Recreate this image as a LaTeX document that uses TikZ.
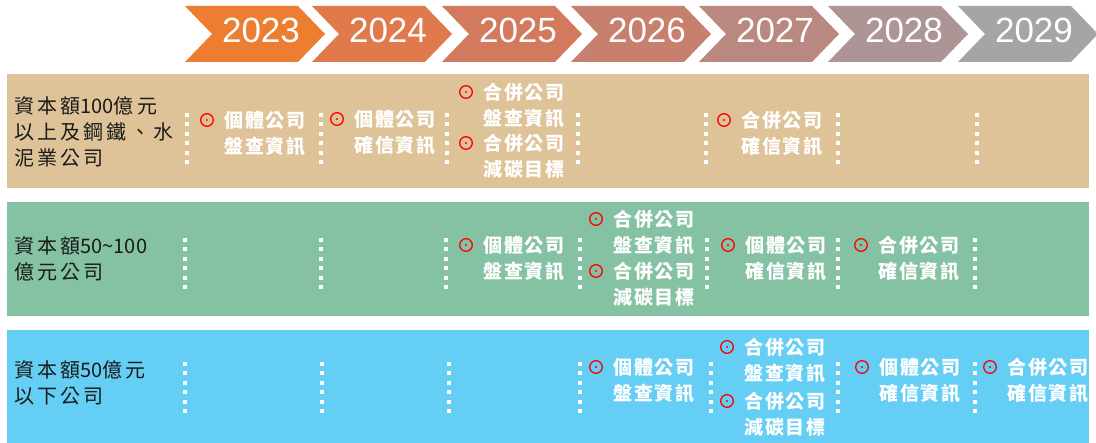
\documentclass[tikz,border=0pt]{standalone}
\usepackage{fontspec}
\setmainfont{Liberation Sans}
\newfontfamily\cjk[LetterSpace=10]{Noto Sans CJK TC}
\newfontfamily\cjklbl[LetterSpace=16]{Noto Sans CJK TC}
\newfontfamily\cjkdig{Noto Sans CJK TC}
\newcommand\dg[1]{{\cjkdig #1}}
\definecolor{c23}{HTML}{ED7D31}
\definecolor{c24}{HTML}{E07A4C}
\definecolor{c25}{HTML}{D37A5E}
\definecolor{c26}{HTML}{C8806E}
\definecolor{c27}{HTML}{B98880}
\definecolor{c28}{HTML}{AE9595}
\definecolor{c29}{HTML}{A5A5A5}
\definecolor{rowA}{HTML}{DFC398}
\definecolor{rowB}{HTML}{85C2A4}
\definecolor{rowC}{HTML}{65CEF4}
\definecolor{lbltxt}{HTML}{1A1A1A}
\newcommand\tlentry[5]{%
  \draw[mk] (#2,#3) circle[radius=6.3];
  \fill[red] (#2,#3) circle[radius=1.1];
  \node[wtxt] (#1a) at (#2+17,#3) {#4};
  \node[wtxt] (#1b) at (#2+17,#3+26.5) {#5};
}
\newcommand\chevron[3]{% x0, colour, year
  \fill[#2] (#1,6) -- (#1+113,6) -- (#1+140,34) -- (#1+113,62) -- (#1,62) -- (#1+27,34) -- cycle;
  \node[yearlbl] (y#3) at (#1+76,43) {#3};
}
\newcommand\dotcol[2]{% x, ystart
  \foreach \k in {0,...,5}
    \fill[white] (#1-2,#2+\k*9.5-2) rectangle ++(4,4);
}
\begin{document}
\begin{tikzpicture}[x=1pt,y=-1pt,
  yearlbl/.style={anchor=base,inner sep=0,text=white,font=\fontsize{35}{35}\selectfont},
  wtxt/.style={anchor=west,inner sep=0,text=white,font=\cjk\bfseries\fontsize{19}{19}\selectfont},
  lbl/.style={anchor=west,inner sep=0,align=left,text=lbltxt,font=\cjklbl\fontsize{20}{26}\selectfont},
  mk/.style={draw=red,line width=1.3pt}]
\useasboundingbox (0,0) rectangle (1096,443);
\fill[white] (0,0) rectangle (1096,443);
% chevrons
\chevron{185}{c23}{2023}
\chevron{312}{c24}{2024}
\chevron{442}{c25}{2025}
\chevron{571}{c26}{2026}
\chevron{699}{c27}{2027}
\chevron{828}{c28}{2028}
\chevron{958}{c29}{2029}
% rows
\fill[rowA] (7,74) rectangle (1089,188);
\fill[rowB] (7,202) rectangle (1089,316);
\fill[rowC] (7,330) rectangle (1089,443);
% row labels
\node[lbl] (labA) at (14,132) {資本額\dg{100}億元\\以上及鋼鐵、水\\泥業公司};
\node[lbl] (labB) at (14,259) {資本額\dg{50\textasciitilde100}\\億元公司};
\node[lbl] (labC) at (14,382.5) {資本額\dg{50}億元\\以下公司};
% dotted separators
\foreach \x in {187,321,447,578,706,838,977} {\dotcol{\x}{115}}
\foreach \x in {185,321,446,580,707,838,975} {\dotcol{\x}{240}}
\foreach \x in {185,322,449,580,711,838,975} {\dotcol{\x}{364}}
% row A entries
\tlentry{a1}{207}{120}{個體公司}{盤查資訊}
\tlentry{a2}{337}{119}{個體公司}{確信資訊}
\tlentry{a3}{466}{92}{合併公司}{盤查資訊}
\tlentry{a4}{466}{143}{合併公司}{減碳目標}
\tlentry{a5}{724}{120}{合併公司}{確信資訊}
% row B entries
\tlentry{b1}{466}{245}{個體公司}{盤查資訊}
\tlentry{b2}{596}{219}{合併公司}{盤查資訊}
\tlentry{b3}{596}{271}{合併公司}{減碳目標}
\tlentry{b4}{728}{245}{個體公司}{確信資訊}
\tlentry{b5}{861}{245}{合併公司}{確信資訊}
% row C entries
\tlentry{c1}{596}{367}{個體公司}{盤查資訊}
\tlentry{c2}{727}{347}{合併公司}{盤查資訊}
\tlentry{c3}{727}{401}{合併公司}{減碳目標}
\tlentry{c4}{862}{367}{個體公司}{確信資訊}
\tlentry{c5}{990}{367}{合併公司}{確信資訊}
\end{tikzpicture}
\end{document}
